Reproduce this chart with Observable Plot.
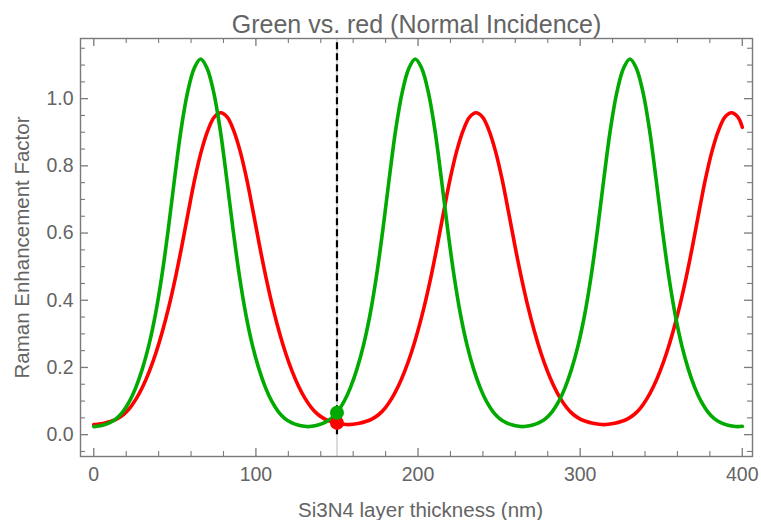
<!DOCTYPE html>
<html>
<head>
<meta charset="utf-8">
<script src="https://cdn.jsdelivr.net/npm/d3@7"></script>
<script src="https://cdn.jsdelivr.net/npm/@observablehq/plot@0.6"></script>
<style>
  html, body { margin: 0; padding: 0; background: #ffffff; }
  #chart { width: 761px; height: 520px; }
</style>
</head>
<body>
<div id="chart"></div>
<script>
// ---- data ----
const titleText = "Green vs. red (Normal Incidence)";
const xLabelText = "Si3N4 layer thickness (nm)";
const yLabelText = "Raman Enhancement Factor";

// [thickness (nm), enhancement factor]
const green = [
  [0,0.024],[1.9,0.025],[5.9,0.029],[9.9,0.036],[13.9,0.048],[17.9,0.068],[21.9,0.098],[25.9,0.14],[29.9,0.195],[33.9,0.265],[37.9,0.355],[41.9,0.47],[45.9,0.61],[49.9,0.765],[53.9,0.91],[57.9,1.02],[61.9,1.09],[65.9,1.118],[69.9,1.09],[73.9,1.02],[77.9,0.91],[81.9,0.765],[85.9,0.61],[89.9,0.47],[93.9,0.355],[97.9,0.265],[101.9,0.195],[105.9,0.14],[109.9,0.098],[113.9,0.068],[117.9,0.048],[121.9,0.036],[125.9,0.029],[129.9,0.025],[132.1,0.024],
  [134.3,0.025],[138.3,0.029],[142.3,0.036],[146.3,0.048],[150.3,0.068],[154.3,0.098],[158.3,0.14],[162.3,0.195],[166.3,0.265],[170.3,0.355],[174.3,0.47],[178.3,0.61],[182.3,0.765],[186.3,0.91],[190.3,1.02],[194.3,1.09],[198.3,1.118],[202.3,1.09],[206.3,1.02],[210.3,0.91],[214.3,0.765],[218.3,0.61],[222.3,0.47],[226.3,0.355],[230.3,0.265],[234.3,0.195],[238.3,0.14],[242.3,0.098],[246.3,0.068],[250.3,0.048],[254.3,0.036],[258.3,0.029],[262.3,0.025],[264.5,0.024],
  [266.7,0.025],[270.7,0.029],[274.7,0.036],[278.7,0.048],[282.7,0.068],[286.7,0.098],[290.7,0.14],[294.7,0.195],[298.7,0.265],[302.7,0.355],[306.7,0.47],[310.7,0.61],[314.7,0.765],[318.7,0.91],[322.7,1.02],[326.7,1.09],[330.7,1.118],[334.7,1.09],[338.7,1.02],[342.7,0.91],[346.7,0.765],[350.7,0.61],[354.7,0.47],[358.7,0.355],[362.7,0.265],[366.7,0.195],[370.7,0.14],[374.7,0.098],[378.7,0.068],[382.7,0.048],[386.7,0.036],[390.7,0.029],[394.7,0.025],[396.9,0.024],[400,0.025]
];
const red = [
  [0,0.030],[2.3,0.031],[6.3,0.034],[10.3,0.039],[14.3,0.047],[18.3,0.06],[22.3,0.08],[26.3,0.108],[30.3,0.144],[34.3,0.189],[38.3,0.243],[42.3,0.307],[46.3,0.381],[50.3,0.466],[54.3,0.561],[58.3,0.663],[62.3,0.761],[66.3,0.843],[70.3,0.905],[74.3,0.945],[78.3,0.958],[82.3,0.945],[86.3,0.905],[90.3,0.843],[94.3,0.761],[98.3,0.663],[102.3,0.561],[106.3,0.466],[110.3,0.381],[114.3,0.307],[118.3,0.243],[122.3,0.189],[126.3,0.144],[130.3,0.108],[134.3,0.08],[138.3,0.06],[142.3,0.047],[146.3,0.039],[150.3,0.034],[154.3,0.031],[157.05,0.030],
  [159.8,0.031],[163.8,0.034],[167.8,0.039],[171.8,0.047],[175.8,0.06],[179.8,0.08],[183.8,0.108],[187.8,0.144],[191.8,0.189],[195.8,0.243],[199.8,0.307],[203.8,0.381],[207.8,0.466],[211.8,0.561],[215.8,0.663],[219.8,0.761],[223.8,0.843],[227.8,0.905],[231.8,0.945],[235.8,0.958],[239.8,0.945],[243.8,0.905],[247.8,0.843],[251.8,0.761],[255.8,0.663],[259.8,0.561],[263.8,0.466],[267.8,0.381],[271.8,0.307],[275.8,0.243],[279.8,0.189],[283.8,0.144],[287.8,0.108],[291.8,0.08],[295.8,0.06],[299.8,0.047],[303.8,0.039],[307.8,0.034],[311.8,0.031],[314.55,0.030],
  [317.3,0.031],[321.3,0.034],[325.3,0.039],[329.3,0.047],[333.3,0.06],[337.3,0.08],[341.3,0.108],[345.3,0.144],[349.3,0.189],[353.3,0.243],[357.3,0.307],[361.3,0.381],[365.3,0.466],[369.3,0.561],[373.3,0.663],[377.3,0.761],[381.3,0.843],[385.3,0.905],[389.3,0.945],[393.3,0.958],[397.3,0.945],[400,0.915]
];

const markerX = 150;
const markerPoints = [
  {x: 150, y: 0.035, series: "red"},
  {x: 150, y: 0.065, series: "green"}
];

const xDomain = [-8.2, 406.3];
const yDomain = [-0.065, 1.179];
const xMajor = [0, 100, 200, 300, 400];
const xMinor = [20, 40, 60, 80, 120, 140, 160, 180, 220, 240, 260, 280, 320, 340, 360, 380];
const yMajor = [0, 0.2, 0.4, 0.6, 0.8, 1.0];
const yMinor = [-0.05, 0.05, 0.1, 0.15, 0.25, 0.3, 0.35, 0.45, 0.5, 0.55, 0.65, 0.7, 0.75, 0.85, 0.9, 0.95, 1.05, 1.1, 1.15];

// ---- styling ----
const W = 761, H = 520;
const mL = 80, mR = 9, mT = 38, mB = 64;
const innerW = W - mL - mR, innerH = H - mT - mB;
const colors = {green: "#00aa00", red: "#ff0000"};
const textGray = "#646464";
const frameGray = "#7a7a7a";
const majorLen = 8, minorLen = 5;

const chart = Plot.plot({
  width: W,
  height: H,
  marginLeft: mL, marginRight: mR, marginTop: mT, marginBottom: mB,
  style: {fontFamily: "'Liberation Sans', Arial, sans-serif", background: "#ffffff", overflow: "visible"},
  x: {domain: xDomain},
  y: {domain: yDomain},
  marks: [
    Plot.ruleX([markerX], {stroke: "#cfcfcf", strokeWidth: 1.5}),
    Plot.line(red, {x: d => d[0], y: d => d[1], stroke: colors.red, strokeWidth: 3.6, curve: "catmull-rom"}),
    Plot.line(green, {x: d => d[0], y: d => d[1], stroke: colors.green, strokeWidth: 3.6, curve: "catmull-rom"}),
    Plot.ruleX([markerX], {y1: 0, y2: yDomain[1], stroke: "#000000", strokeWidth: 2.2, strokeDasharray: "7,4"}),
    Plot.dot(markerPoints, {x: "x", y: "y", r: 7, fill: d => colors[d.series], stroke: "none"}),
    // inward ticks on all four sides
    Plot.tickX(xMajor, {insetTop: innerH - majorLen, stroke: frameGray, strokeWidth: 1.3}),
    Plot.tickX(xMinor, {insetTop: innerH - minorLen, stroke: frameGray, strokeWidth: 1.1}),
    Plot.tickX(xMajor, {insetBottom: innerH - majorLen, stroke: frameGray, strokeWidth: 1.3}),
    Plot.tickX(xMinor, {insetBottom: innerH - minorLen, stroke: frameGray, strokeWidth: 1.1}),
    Plot.tickY(yMajor, {insetRight: innerW - majorLen, stroke: frameGray, strokeWidth: 1.3}),
    Plot.tickY(yMinor, {insetRight: innerW - minorLen, stroke: frameGray, strokeWidth: 1.1}),
    Plot.tickY(yMajor, {insetLeft: innerW - majorLen, stroke: frameGray, strokeWidth: 1.3}),
    Plot.tickY(yMinor, {insetLeft: innerW - minorLen, stroke: frameGray, strokeWidth: 1.1}),
    Plot.frame({stroke: frameGray, strokeWidth: 1.4}),
    Plot.axisX(xMajor, {anchor: "bottom", tickSize: 0, tickPadding: 11, fontSize: 19.5, fill: textGray, label: null}),
    Plot.axisY(yMajor, {anchor: "left", tickSize: 0, tickPadding: 7, fontSize: 19.5, fill: textGray, label: null, tickFormat: d => d.toFixed(1)}),
    Plot.text([titleText], {frameAnchor: "top", textAnchor: "middle", lineAnchor: "bottom", dy: -6, fontSize: 25, fill: textGray}),
    Plot.text([xLabelText], {frameAnchor: "bottom", textAnchor: "middle", lineAnchor: "bottom", dy: 60.5, dx: 4, fontSize: 20.5, fill: textGray}),
    Plot.text([yLabelText], {frameAnchor: "left", textAnchor: "middle", lineAnchor: "bottom", rotate: -90, dx: -52, fontSize: 20.5, fill: textGray})
  ]
});
document.getElementById("chart").appendChild(chart);
</script>
</body>
</html>
